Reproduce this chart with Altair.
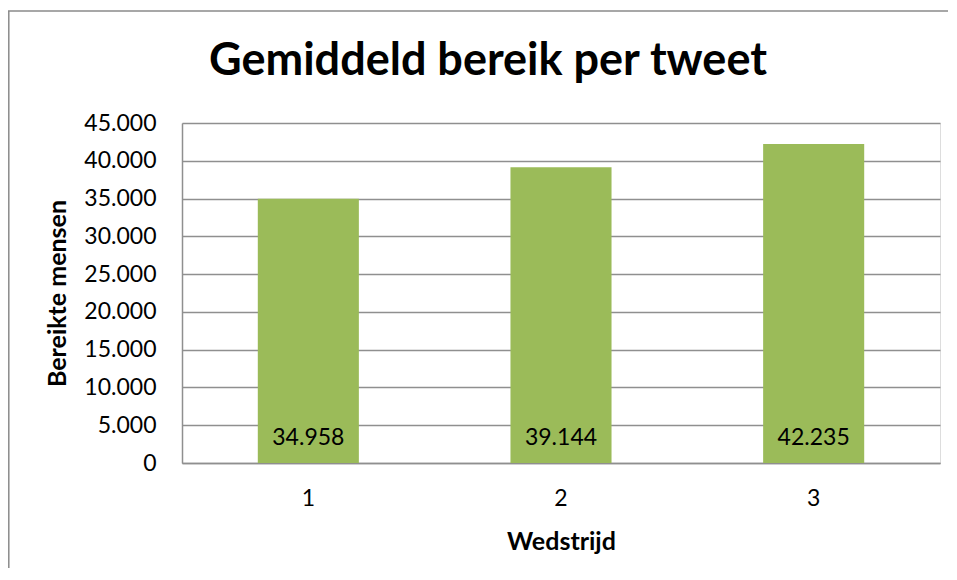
import altair as alt
import pandas as pd

# ---- data ----
wedstrijd = ["1", "2", "3"]
bereik = [34958, 39144, 42235]
y_ticks = [0, 5000, 10000, 15000, 20000, 25000, 30000, 35000, 40000, 45000]

df = pd.DataFrame({"Wedstrijd": wedstrijd, "Bereik": bereik})

W, H = 758, 340
FONT = "Lato"
GRID = "#8f8f8f"
fmt = "replace(format(datum.value, ','), ',', '.')"

x_axis = alt.Axis(
    title="Wedstrijd",
    labelAngle=0,
    labelFont=FONT,
    labelFontSize=23,
    labelColor="black",
    labelPadding=24,
    ticks=False,
    domainColor=GRID,
    domainWidth=1.5,
    titleFont=FONT,
    titleFontSize=25,
    titleFontWeight="bold",
    titleColor="black",
    titleX=W / 2,
    titleY=78,
    titleBaseline="middle",
)
x_scale = alt.Scale(paddingInner=0.6, paddingOuter=0.3)

y_axis = alt.Axis(
    title="Bereikte mensen",
    values=y_ticks,
    labelExpr=fmt,
    labelOverlap=False,
    labelBound=False,
    labelFont=FONT,
    labelFontSize=23,
    labelColor="black",
    labelPadding=26,
    ticks=False,
    domainColor=GRID,
    domainWidth=1.5,
    grid=True,
    gridColor=GRID,
    gridWidth=1.5,
    titleFont=FONT,
    titleFontSize=25,
    titleFontWeight="bold",
    titleColor="black",
    titleAngle=-90,
    titleX=-125,
    titleY=170,
    titleBaseline="middle",
    titleAlign="center",
)
y_scale = alt.Scale(domain=[0, 45000], nice=False)

bars = alt.Chart(df).mark_bar(color="#9BBB59").encode(
    x=alt.X("Wedstrijd:N", sort=wedstrijd, scale=x_scale, axis=x_axis),
    y=alt.Y("Bereik:Q", scale=y_scale, axis=y_axis),
)

labels = (
    alt.Chart(df)
    .transform_calculate(
        label="replace(format(datum.Bereik, ','), ',', '.')", zero="0"
    )
    .mark_text(font=FONT, fontSize=23, color="black", baseline="middle", dy=-25)
    .encode(
        x=alt.X("Wedstrijd:N", sort=wedstrijd, scale=x_scale, axis=x_axis),
        y=alt.Y("zero:Q", scale=y_scale, axis=y_axis),
        text="label:N",
    )
)

frame_df = pd.DataFrame({"a": [0]})
left_border = alt.Chart(frame_df).mark_rule(color="#8a8a8a", strokeWidth=1.5).encode(
    x=alt.value(-173.2), y=alt.value(-112), y2=alt.value(H + 110)
)
top_border = alt.Chart(frame_df).mark_rule(color="#8a8a8a", strokeWidth=1.5).encode(
    x=alt.value(-174), x2=alt.value(W + 20), y=alt.value(-112)
)

chart = (
    alt.layer(bars, labels, left_border, top_border)
    .properties(
        width=W,
        height=H,
        autosize=alt.AutoSizeParams(type="none"),
        padding={"left": 174, "top": 115, "right": 8, "bottom": 105},
        title=alt.Title(
            "Gemiddeld bereik per tweet",
            font=FONT,
            fontSize=45,
            fontWeight="bold",
            color="black",
            anchor="middle",
            frame="group",
            baseline="alphabetic",
            dx=-73,
            dy=46,
            offset=-64,
        ),
    )
    .configure_view(stroke="transparent", strokeWidth=0)
    .configure(background="white")
)

chart.save("out.html", embed_options={"renderer": "svg", "actions": False})
